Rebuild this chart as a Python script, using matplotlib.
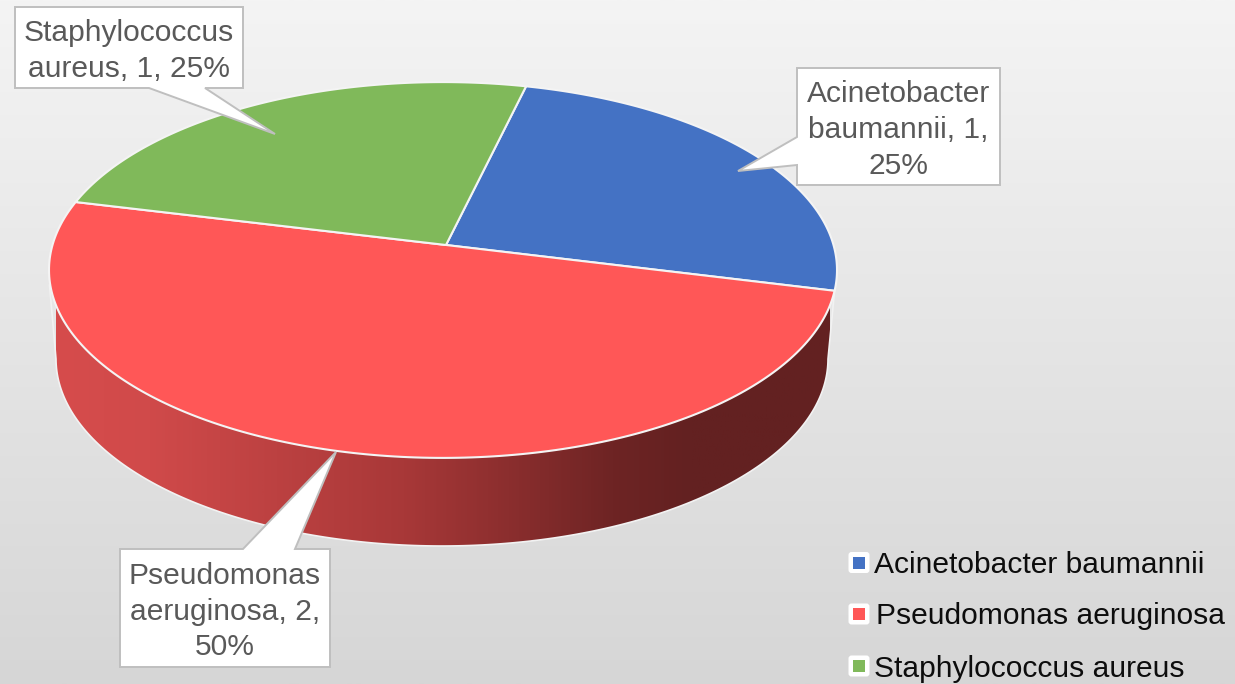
import numpy as np
import matplotlib
matplotlib.use("Agg")
import matplotlib.pyplot as plt
from matplotlib.colors import LinearSegmentedColormap
from matplotlib.patches import Polygon, FancyBboxPatch, Rectangle

categories = ["Acinetobacter baumannii", "Pseudomonas aeruginosa", "Staphylococcus aureus"]
values = [1, 2, 1]
labels = ["Acinetobacter\nbaumannii, 1,\n25%", "Pseudomonas\naeruginosa, 2,\n50%", "Staphylococcus\naureus, 1, 25%"]
colors = ["#4472C4", "#FF5757", "#80B95A"]

W, H = 1235, 684
plt.rcParams["font.family"] = ["Liberation Sans", "DejaVu Sans"]
fig = plt.figure(figsize=(W / 100, H / 100), dpi=100)
ax = fig.add_axes([0, 0, 1, 1])
ax.set_xlim(0, W)
ax.set_ylim(H, 0)
ax.axis("off")

# slide background
bg = LinearSegmentedColormap.from_list("bg", ["#F4F4F4", "#D6D6D6"])
ax.imshow(np.linspace(0, 1, 256)[:, None], extent=(0, W, H, 0), cmap=bg, aspect="auto", zorder=0)

# perspective projection of the unit disc
CX, CY, A, B, K = 443.0, 245.0, 390.5, 152.0, 0.133
START = 13.9


def project(theta_deg):
    t = np.radians(theta_deg)
    X, Y = np.sin(t), np.cos(t)
    d = 1 + K * Y
    return CX + A * X / d, (CY - B * Y) / d


# side wall
th = np.linspace(90, 270, 200)
bx = 442 + 386 * np.sin(np.radians(th))
by = 359 - 187 * np.cos(np.radians(th))
tx, ty = project(np.linspace(START + 90, START + 270, 200))
wall_x = np.concatenate([tx[:1], bx, [49.5], tx[-1:]])
wall_y = np.concatenate([ty[:1], by, [285], ty[-1:]])
wall_cmap = LinearSegmentedColormap.from_list(
    "wall", [(0, "#D64C4C"), (0.12, "#D04A4A"), (0.45, "#A83838"), (0.72, "#6E2424"), (0.82, "#632121"), (1, "#632121")]
)
grad = ax.imshow(np.linspace(0, 1, 512)[None, :], extent=(56, 830, 560, 270), cmap=wall_cmap, aspect="auto", zorder=1)
wall = Polygon(np.c_[wall_x, wall_y], closed=True, transform=ax.transData, facecolor="none", edgecolor="none")
ax.add_patch(wall)
grad.set_clip_path(wall)
ax.set_xlim(0, W)
ax.set_ylim(H, 0)
ax.add_patch(Polygon(np.c_[wall_x, wall_y], closed=True, facecolor="none", edgecolor="#F2F2F2", lw=1.2, zorder=1.5))

# top face
fractions = np.array(values) / sum(values)
edges = START + 360 * np.concatenate([[0], np.cumsum(fractions)])
for i, c in enumerate(colors):
    px, py = project(np.linspace(edges[i], edges[i + 1], 200))
    pts = np.r_[[[CX + 3, CY]], np.c_[px, py]]
    ax.add_patch(Polygon(pts, closed=True, facecolor=c, edgecolor="#F4F4F4", lw=1.5, zorder=2, joinstyle="round"))


# data label callouts
def callout(text, box, tip, base, side):
    x0, y0, x1, y1 = box
    if side == "bottom":
        pts = [(x0, y0), (x1, y0), (x1, y1), (base[1], y1), tip, (base[0], y1), (x0, y1)]
    elif side == "top":
        pts = [(x0, y0), (base[0], y0), tip, (base[1], y0), (x1, y0), (x1, y1), (x0, y1)]
    else:
        pts = [(x0, y0), (x1, y0), (x1, y1), (x0, y1), (x0, base[1]), tip, (x0, base[0])]
    ax.add_patch(Polygon(pts, closed=True, facecolor="white", edgecolor="#BFBFBF", lw=1.4, zorder=3, joinstyle="miter"))
    ax.text((x0 + x1) / 2, (y0 + y1) / 2 + 3.5, text, ha="center", va="center", fontsize=21.6, color="#595959",
            linespacing=1.36, zorder=4)


callout(labels[0], (797, 68, 1000, 185), (738, 171), (137, 165), "left")
callout(labels[1], (120, 549, 330, 667), (336, 452), (243, 295), "top")
callout(labels[2], (15, 7, 243, 88), (275, 134), (149, 205), "bottom")

# legend
legend_y = [562.5, 614, 666]
legend_base = [572.7, 624, 676.7]
legend_x = [874.5, 875.5, 874.5]
for name, c, y, b, x in zip(categories, colors, legend_y, legend_base, legend_x):
    ax.add_patch(FancyBboxPatch((849.5, y - 9.5), 19, 19, boxstyle="round,pad=1,rounding_size=3",
                                facecolor="white", edgecolor="none", zorder=3))
    ax.add_patch(Rectangle((853, y - 6), 12, 12, facecolor=c, edgecolor="none", zorder=4))
    ax.text(x, b, name, ha="left", va="baseline", fontsize=21.6, color="#0D0D0D", zorder=4)

fig.savefig("out.png", dpi=100)
